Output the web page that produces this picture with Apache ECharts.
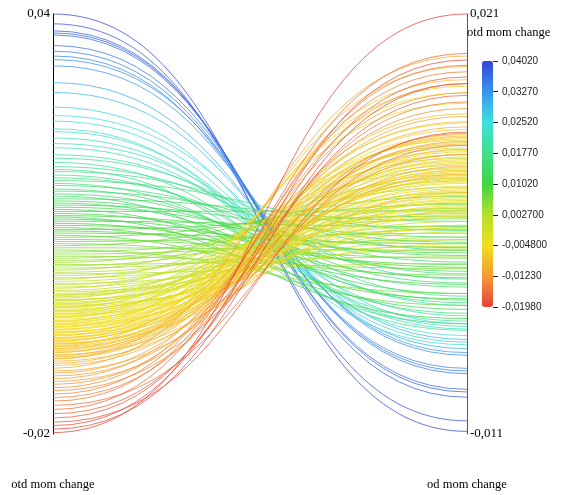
<!DOCTYPE html>
<html>
<head>
<meta charset="utf-8">
<script src="https://cdn.jsdelivr.net/npm/echarts@6/dist/echarts.min.js"></script>
<style>html,body{margin:0;padding:0;background:#fff}#c{width:566px;height:495px}</style>
</head>
<body>
<div id="c"></div>
<script>
// Each line: left axis value (otd mom change) -> right axis value (od mom change)
var otdValues = [
  0.0400, 0.0386, 0.0376, 0.0373, 0.0370, 0.0355, 0.0347, 0.0340, 0.0335, 0.0326,
  0.0302, 0.0288, 0.0267, 0.0255, 0.0247, 0.0236, 0.0232, 0.0223, 0.0215, 0.0209, 0.0199, 0.0194,
  0.0188, 0.0182, 0.0178, 0.0175, 0.0170, 0.0166, 0.0162, 0.0158, 0.0155, 0.0150, 0.0147, 0.0143,
  0.0140, 0.0136, 0.0133, 0.0130, 0.0127, 0.0124, 0.0121, 0.0118, 0.0115, 0.0112, 0.0110, 0.0107,
  0.0104, 0.0101, 0.0098, 0.0095, 0.0092, 0.0090, 0.0087, 0.0084, 0.0081, 0.0078, 0.0075, 0.0072,
  0.0069, 0.0066, 0.0063, 0.0060, 0.0057, 0.0054, 0.0051,
  0.0048, 0.0045, 0.0042, 0.0040, 0.0037, 0.0034, 0.0031, 0.0029, 0.0026, 0.0023, 0.0021, 0.0018,
  0.0015, 0.0013, 0.0010, 0.0008, 0.0005, 0.0003, 0.0000, -0.0002, -0.0004, -0.0006, -0.0008, -0.0010,
  -0.0012, -0.0014, -0.0016, -0.0018, -0.0020, -0.0022, -0.0024, -0.0026, -0.0028, -0.0030, -0.0032,
  -0.0034, -0.0036, -0.0038, -0.0040, -0.0042, -0.0044, -0.0046, -0.0048, -0.0050, -0.0052, -0.0054,
  -0.0056, -0.0058, -0.0060, -0.0062, -0.0064, -0.0066, -0.0068, -0.0070, -0.0072, -0.0074, -0.0076, -0.0078,
  -0.0001, -0.0009, -0.0015, -0.0019, -0.0025, -0.0029, -0.0033, -0.0039, -0.0043, -0.0047, -0.0051,
  -0.0055, -0.0059, -0.0063, -0.0067, -0.0071, -0.0075, -0.0079, -0.0083, -0.0088, -0.0092,
  -0.0081, -0.0084, -0.0087, -0.0090, -0.0093, -0.0096, -0.0099, -0.0102, -0.0106, -0.0110, -0.0113,
  -0.0117, -0.0121, -0.0125, -0.0129,
  -0.0134, -0.0138, -0.0143, -0.0148, -0.0153, -0.0159, -0.0165, -0.0171, -0.0177, -0.0183, -0.0188,
  -0.0193, -0.0198
];
var odValues = [
  -0.0108, -0.0100, -0.0082, -0.0078, -0.0076, -0.0064, -0.0062, -0.0060, -0.0050, -0.0048,
  -0.0045, -0.0038, -0.0040, -0.0026, -0.0035, -0.0042, -0.0030, -0.0028, -0.0012, -0.0020, -0.0005, 0.0008,
  -0.0024, 0.0012, -0.0031, 0.0030, -0.0010, 0.0005, 0.0045, -0.0018, 0.0021, -0.0008, 0.0036, 0.0002,
  -0.0026, 0.0052, 0.0014, -0.0003, 0.0040, 0.0026, -0.0015, 0.0060, 0.0009, 0.0032, -0.0022, 0.0017,
  0.0048, 0.0004, 0.0028, -0.0007, 0.0056, 0.0019, 0.0035, -0.0012, 0.0065, 0.0024, 0.0043, 0.0011,
  0.0071, 0.0030, -0.0003, 0.0054, 0.0038, 0.0016, 0.0062,
  0.0046, 0.0078, 0.0025, 0.0058, 0.0033, 0.0085, 0.0049, 0.0020, 0.0066, 0.0040, 0.0092, 0.0055,
  0.0031, 0.0074, 0.0047, 0.0100, 0.0062, 0.0038, 0.0083, 0.0052, 0.0070, 0.0108, 0.0044, 0.0088,
  0.0061, 0.0095, 0.0035, 0.0077, 0.0114, 0.0057, 0.0086, 0.0068, 0.0103, 0.0049, 0.0081,
  0.0142, 0.0064, 0.0093, 0.0073, 0.0110, 0.0056, 0.0089, 0.0150, 0.0079, 0.0098, 0.0067,
  0.0115, 0.0084, 0.0155, 0.0072, 0.0105, 0.0091, 0.0122, 0.0060, 0.0101, 0.0160, 0.0087, 0.0112,
  0.0066, 0.0059, 0.0083, 0.0047, 0.0097, 0.0075, 0.0063, 0.0106, 0.0082, 0.0069, 0.0118,
  0.0091, 0.0076, 0.0127, 0.0099, 0.0085, 0.0116, 0.0103, 0.0090, 0.0134, 0.0111,
  0.0096, 0.0128, 0.0074, 0.0117, 0.0170, 0.0088, 0.0124, 0.0107, 0.0178, 0.0094, 0.0132,
  0.0113, 0.0150, 0.0103, 0.0138,
  0.0157, 0.0119, 0.0166, 0.0143, 0.0171, 0.0110, 0.0180, 0.0148, 0.0162, 0.0120, 0.0175,
  0.0157, 0.0210
];
var axisNames = ['otd mom change', 'od mom change'];
var leftRange = [-0.02, 0.04];
var rightRange = [-0.011, 0.021];
var colorRange = [-0.0198, 0.0402];
var colorTickLabels = ['-0,01980', '-0,01230', '-0,004800', '0,002700', '0,01020', '0,01770', '0,02520', '0,03270', '0,04020'];
var colorStops = ['#e8413c', '#f39a34', '#f3de1e', '#b4e02a', '#40d640', '#40df8c', '#3fdfdf', '#3a95ef', '#3344d8'];

var rows = otdValues.map(function (v, i) { return [v, odValues[i]]; });

var chart = echarts.init(document.getElementById('c'), null, { renderer: 'canvas' });
var serif = 'Liberation Serif';
var option = {
  animation: false,
  backgroundColor: '#fff',
  title: {
    text: axisNames[0], left: 467, top: 26, padding: 0,
    textStyle: { fontFamily: serif, fontSize: 12.5, fontWeight: 'normal', color: '#000' }
  },
  grid: [
    { left: 53, right: 99, top: 14, bottom: 61 },
    { left: 482, top: 61, width: 11, height: 246 }
  ],
  xAxis: [
    { gridIndex: 0, type: 'value', min: 0, max: 1, show: false },
    { gridIndex: 1, type: 'value', min: 0, max: 1, show: false }
  ],
  yAxis: [
    {
      gridIndex: 0, type: 'value', position: 'left',
      min: leftRange[0], max: leftRange[1], interval: leftRange[1] - leftRange[0],
      name: axisNames[0], nameLocation: 'start', nameGap: 51,
      nameTextStyle: { fontFamily: serif, fontSize: 12.5, color: '#000', align: 'center', verticalAlign: 'middle' },
      axisLine: { show: true, onZero: false, lineStyle: { color: '#000', width: 1 } },
      axisTick: { show: false }, splitLine: { show: false },
      axisLabel: { margin: 3, fontFamily: serif, fontSize: 13, color: '#000',
        formatter: function (v) { return v.toFixed(2).replace('.', ','); } }
    },
    {
      gridIndex: 0, type: 'value', position: 'right',
      min: rightRange[0], max: rightRange[1], interval: rightRange[1] - rightRange[0],
      name: axisNames[1], nameLocation: 'start', nameGap: 51,
      nameTextStyle: { fontFamily: serif, fontSize: 12.5, color: '#000', align: 'center', verticalAlign: 'middle' },
      axisLine: { show: true, onZero: false, lineStyle: { color: '#555', width: 1 } },
      axisTick: { show: false }, splitLine: { show: false },
      axisLabel: { margin: 3, fontFamily: serif, fontSize: 13, color: '#000',
        formatter: function (v) { return v.toFixed(3).replace('.', ','); } }
    },
    {
      gridIndex: 1, type: 'value', position: 'right',
      min: colorRange[0], max: colorRange[1], interval: 0.0075,
      axisLine: { show: true, onZero: false, lineStyle: { color: 'rgba(0,0,0,0)' } },
      axisTick: { show: true, inside: false, length: 5, lineStyle: { color: '#222', width: 1 } },
      splitLine: { show: false },
      axisLabel: { margin: 9, fontFamily: 'Liberation Sans', fontSize: 10, color: '#222',
        formatter: function (v, i) { return colorTickLabels[i]; } }
    }
  ],
  visualMap: {
    type: 'continuous', min: colorRange[0], max: colorRange[1], dimension: 0, seriesIndex: 0,
    left: 482, top: 61, itemWidth: 11, itemHeight: 246, padding: 0,
    calculable: false, hoverLink: false,
    inRange: { color: colorStops }
  },
  series: [{
    type: 'custom', coordinateSystem: 'cartesian2d', xAxisIndex: 0, yAxisIndex: 0,
    data: rows,
    renderItem: function (params, api) {
      var a = api.value(0), b = api.value(1);
      var p0 = api.coord([0, a]);
      var xr = api.coord([1, a])[0];
      var yr = chart.convertToPixel({ yAxisIndex: 1 }, b);
      var dx = (xr - p0[0]) * 0.5;
      return {
        type: 'bezierCurve',
        shape: { x1: p0[0], y1: p0[1], x2: xr, y2: yr, cpx1: p0[0] + dx, cpy1: p0[1], cpx2: xr - dx, cpy2: yr },
        style: { stroke: api.visual('color'), fill: null, lineWidth: 1, opacity: 0.75 }
      };
    }
  }]
};
chart.setOption(option);
</script>
</body>
</html>
